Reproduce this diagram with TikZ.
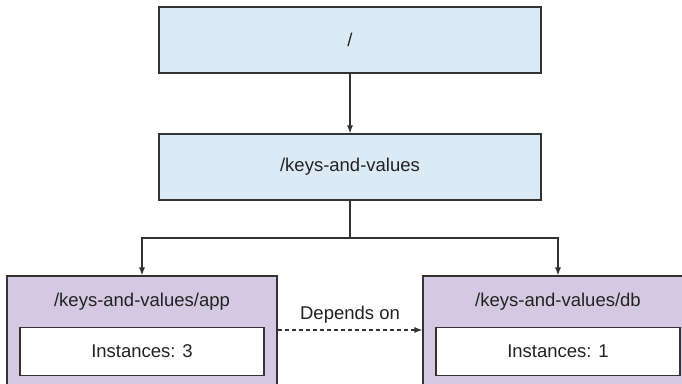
\documentclass[tikz,border=0pt]{standalone}
\usepackage{fontspec}
\setmainfont{Liberation Sans}
\usetikzlibrary{arrows.meta,calc}
\definecolor{boxblue}{HTML}{DCEAF6}
\definecolor{boxpurple}{HTML}{D4C9E2}
\definecolor{edge}{HTML}{333333}
\definecolor{txt}{HTML}{222222}
\begin{document}
\begin{tikzpicture}[x=1pt,y=-1pt,
  lbl/.style={font=\fontsize{18.5}{22}\selectfont,text=txt},
  bluebox/.style={draw=edge,line width=1.2pt,fill=boxblue,minimum width=382pt,minimum height=66pt,inner sep=0pt,lbl},
  purplebox/.style={draw=edge,line width=1.2pt,fill=boxpurple,minimum width=270pt,minimum height=130pt,inner sep=0pt},
  innerbox/.style={draw=edge,line width=1.2pt,fill=white,minimum width=244pt,minimum height=48pt,inner sep=0pt,lbl},
  conn/.style={draw=edge,line width=1.1pt,-{Latex[length=8pt,width=6pt]}},
  dashconn/.style={conn,dash pattern=on 4pt off 3pt}]
\useasboundingbox (0,0) rectangle (682,383);
\clip (0,0) rectangle (682,383);
\fill[white] (0,0) rectangle (682,383);
\node[bluebox] (root) at (350,40) {/};
\node[bluebox] (kv) at (350,167) {/keys-and-values};
\node[purplebox] (app) at (142,341) {};
\node[purplebox] (db) at (558,341) {};
\node[lbl] (apptitle) at (142,302) {/keys-and-values/app};
\node[lbl] (dbtitle) at (558,302) {/keys-and-values/db};
\node[innerbox] (appinst) at (142,351.5) {Instances: 3};
\node[innerbox] (dbinst) at (558,351.5) {Instances: 1};
\coordinate (split) at (350,238);
\coordinate (dashy) at (350,330);
\draw[conn] (root.south) -- (kv.north);
\draw[draw=edge,line width=1.1pt] (kv.south) -- (split);
\draw[conn] (split) -| (app.north);
\draw[conn] (split) -| (db.north);
\draw[dashconn] (app.east |- dashy) -- node[lbl,above=3pt,pos=0.5] (dep) {Depends on} (db.west |- dashy);
\end{tikzpicture}
\end{document}
